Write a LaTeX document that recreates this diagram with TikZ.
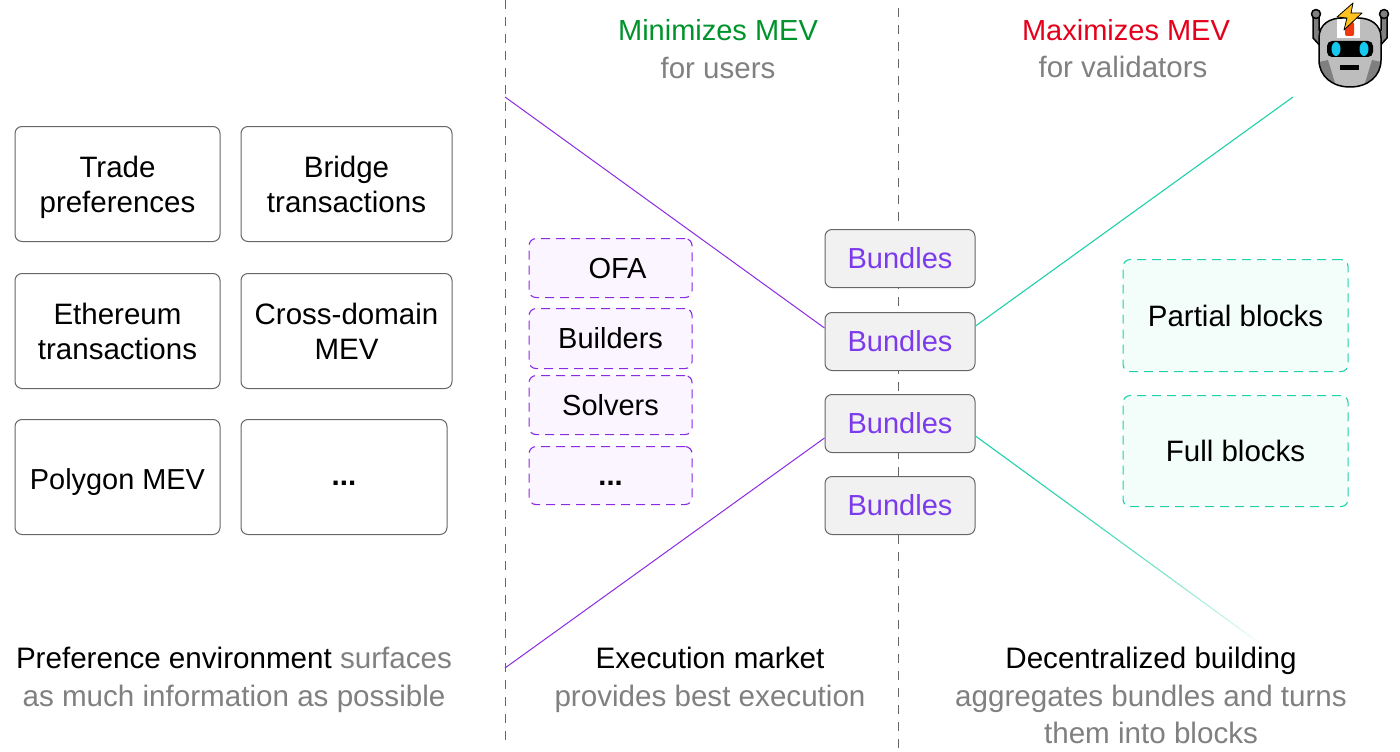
\documentclass[tikz,border=0pt]{standalone}
\usepackage{fontspec}
\setmainfont{Liberation Sans}
\usetikzlibrary{calc}
\definecolor{purpleline}{HTML}{8A2BE2}
\definecolor{purpletext}{HTML}{7C3AED}
\definecolor{purplefill}{HTML}{FAF5FF}
\definecolor{tealline}{HTML}{1FD1A8}
\definecolor{tealfill}{HTML}{F3FDFA}
\definecolor{graytext}{HTML}{808080}
\definecolor{boxedge}{HTML}{666666}
\definecolor{bundlefill}{HTML}{F1F1F1}
\definecolor{mingreen}{HTML}{00932B}
\definecolor{maxred}{HTML}{E4001B}
\definecolor{robotarm}{HTML}{7F7F7F}
\definecolor{robothead}{HTML}{BDBDBD}
\definecolor{roboteye}{HTML}{14C8F0}
\definecolor{robotbolt}{HTML}{FFC21F}
\definecolor{robotred}{HTML}{F03A0E}
\tikzset{
  txt/.style={font=\fontsize{29.5}{37.5}\selectfont, align=center, inner sep=0pt},
  titletxt/.style={txt, font=\fontsize{29}{37.5}\selectfont},
  notetxt/.style={font=\fontsize{29.6}{37.5}\selectfont, align=center, inner sep=0pt, anchor=north},
  prefbox/.style={txt, font=\fontsize{29.5}{35}\selectfont, draw=boxedge, line width=1pt, rounded corners=7pt,
    anchor=north west, minimum height=115pt, text depth=0pt},
  twolines/.style={prefbox, text height=57pt},
  oneline/.style={prefbox, font=\fontsize{28.9}{35}\selectfont, text height=24pt},
  bundlebox/.style={titletxt, draw=boxedge, line width=1pt, rounded corners=7pt, anchor=north west,
    fill=bundlefill, text=purpletext, minimum width=150pt, minimum height=58pt},
  marketbox/.style={titletxt, draw=purpleline, fill=purplefill, line width=1.1pt, dash pattern=on 9pt off 6pt,
    rounded corners=7pt, anchor=north west, minimum width=163pt},
  buildbox/.style={txt, draw=tealline, fill=tealfill, line width=1.1pt, dash pattern=on 9pt off 6pt,
    rounded corners=7pt, anchor=north west, minimum width=225pt},
  divider/.style={draw=boxedge, line width=1pt, dash pattern=on 9pt off 8pt},
  market/.style={draw=purpleline, line width=1pt},
  build/.style={draw=tealline, line width=1.1pt},
  robotline/.style={draw=black, line width=1.5pt, line join=round},
}
\begin{document}
\begin{tikzpicture}[x=1pt, y=-1pt]
\useasboundingbox (0,0) rectangle (1400,752);
\coordinate (divaT) at (505,0);
\coordinate (divaB) at (505,742);
\coordinate (divbT) at (898,8);
\coordinate (divbB) at (898,752);
\draw[divider] (divaT) -- (divaB);
\draw[divider] (divbT) -- (divbB);

\coordinate (minT) at (505,97);
\coordinate (minB) at (505,668);
\coordinate (maxT) at (1293,97);
\coordinate (maxB) at (1262,645);

\node[twolines, minimum width=205pt] (trade) at (14.5,126) {Trade\\preferences};
\node[twolines, minimum width=211pt] (bridge) at (240.5,126) {Bridge\\transactions};
\node[twolines, minimum width=205pt] (eth) at (14.5,273) {Ethereum\\transactions};
\node[twolines, minimum width=211pt] (cross) at (240.5,273) {Cross-domain\\MEV};
\node[oneline, minimum width=205pt] (polygon) at (14.5,419) {Polygon MEV};
\node[prefbox, text height=17pt, minimum width=206pt] (prefmore) at (240.5,419) {\textbf{...}};

\node[marketbox, minimum height=59pt] (ofa) at (528.5,238) {\hspace*{14pt}OFA};
\node[marketbox, minimum height=60pt] (builders) at (528.5,308) {Builders};
\node[marketbox, minimum height=59pt] (solvers) at (528.5,375) {Solvers};
\node[marketbox, minimum height=58pt, text height=20pt, text depth=0pt] (marketmore) at (528.5,446) {\textbf{...}};

\node[bundlebox] (bundlea) at (824.5,229) {Bundles};
\node[bundlebox] (bundleb) at (824.5,312) {Bundles};
\node[bundlebox] (bundlec) at (824.5,394) {Bundles};
\node[bundlebox] (bundled) at (824.5,476) {Bundles};

\node[buildbox, minimum height=112pt] (partial) at (1122.5,259) {Partial blocks};
\node[buildbox, minimum height=111pt] (full) at (1122.5,395) {Full blocks};

\draw[market] (minT) -- (bundleb.west |- 0,328);
\draw[market] (minB) -- (bundlec.west |- 0,438);
\draw[build] (bundleb.east |- 0,326) -- (maxT);
\coordinate (fadeS) at (bundlec.east |- 0,436);
\foreach \t in {0,2,...,98} {
  \pgfmathsetmacro{\tint}{100-\t*\t/100}
  \draw[build, line cap=butt, draw=tealline!\tint!white] ($(fadeS)!\t/100!(maxB)$) -- ($(fadeS)!\t/100+0.021!(maxB)$);
}

\node[titletxt, text=mingreen] (mintitle) at (718,30) {Minimizes MEV};
\node[txt, text=graytext] (minsub) at (718,68) {for users};
\node[titletxt, text=maxred] (maxtitle) at (1126,30) {Maximizes MEV};
\node[txt, text=graytext] (maxsub) at (1123,67) {for validators};

\node[notetxt] (prefnote) at (234,647) {Preference environment \textcolor{graytext}{surfaces}\\\textcolor{graytext}{as much information as possible}};
\node[notetxt] (execnote) at (710,647) {Execution market\\\textcolor{graytext}{provides best execution}};
\node[notetxt] (buildnote) at (1151,647) {Decentralized building\\\textcolor{graytext}{aggregates bundles and turns}\\\textcolor{graytext}{them into blocks}};

\draw[robotline, fill=robotarm] (1313,16) -- (1313,38) -- (1324,50) -- (1326,38) -- (1319,30) -- (1319,16) -- cycle;
\draw[robotline, fill=robotarm] (1387,16) -- (1387,38) -- (1376,50) -- (1374,38) -- (1381,30) -- (1381,16) -- cycle;
\draw[robotline, fill=robotarm] (1316,14) circle (4.5pt);
\draw[robotline, fill=robotarm] (1384,14) circle (4.5pt);
\fill[robothead] (1319,38) .. controls (1319,24) and (1330,18) .. (1342,18) -- (1358,18) .. controls (1370,18) and (1381,24) .. (1381,38) -- (1381,60) .. controls (1381,76) and (1368,87) .. (1350,87) .. controls (1332,87) and (1319,76) .. (1319,60) -- cycle;
\fill[robotarm] (1319,62) -- (1328,60) -- (1335,83) .. controls (1325,79) and (1319,72) .. (1319,62) -- cycle;
\fill[robotarm] (1381,62) -- (1372,60) -- (1365,83) .. controls (1375,79) and (1381,72) .. (1381,62) -- cycle;
\fill[white] (1337,18) rectangle (1360,38);
\fill[robotred, rounded corners=2pt] (1345,22) rectangle (1354,36);
\draw[robotline] (1319,38) .. controls (1319,24) and (1330,18) .. (1342,18) -- (1358,18) .. controls (1370,18) and (1381,24) .. (1381,38) -- (1381,60) .. controls (1381,76) and (1368,87) .. (1350,87) .. controls (1332,87) and (1319,76) .. (1319,60) -- cycle;
\fill[black, rounded corners=5pt] (1327,41) rectangle (1373,57);
\fill[roboteye] (1336,49) ellipse (4.5pt and 7pt);
\fill[roboteye] (1364,49) ellipse (4.5pt and 7pt);
\fill[black] (1340,65.5) rectangle (1359,70);
\draw[draw=black, line width=0.8pt, line join=round, fill=robotbolt] (1353,3) -- (1337,17) -- (1347,18) -- (1344,30) -- (1362,13) -- (1351,13) -- cycle;
\end{tikzpicture}
\end{document}
